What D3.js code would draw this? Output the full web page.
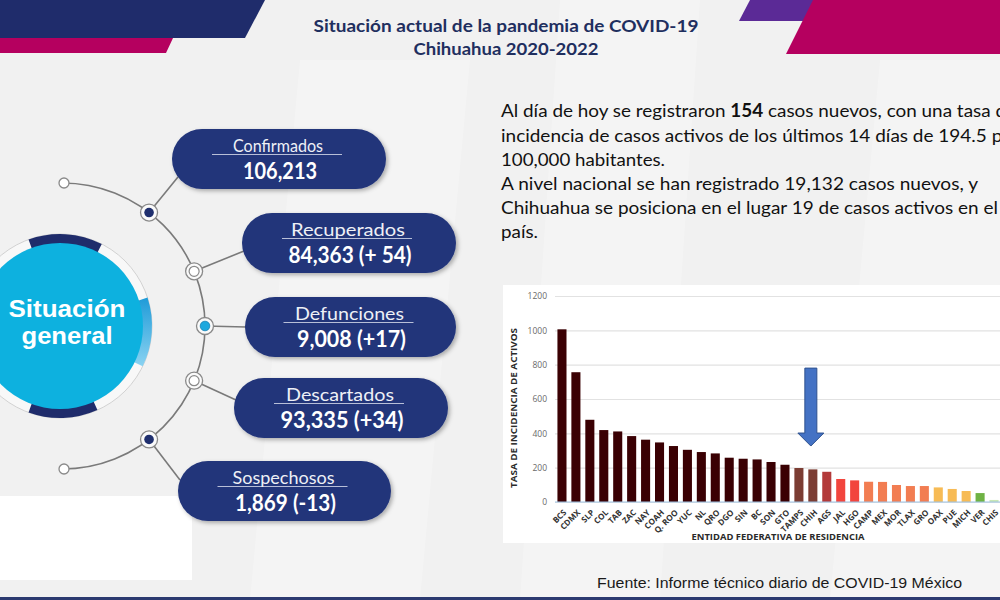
<!DOCTYPE html>
<html>
<head>
<meta charset="utf-8">
<script src="https://cdn.jsdelivr.net/npm/d3@7"></script>
<style>
  html, body { margin: 0; padding: 0; background: #f2f2f2; overflow: hidden; }
</style>
</head>
<body>
<svg id="slide" width="1000" height="600" font-family="Lato, 'Open Sans', sans-serif"></svg>
<script>
// ---- datos ----
var estados = ["BCS", "CDMX", "SLP", "COL", "TAB", "ZAC", "NAY", "COAH", "Q. ROO", "YUC", "NL", "QRO",
  "DGO", "SIN", "BC", "SON", "GTO", "TAMPS", "CHIH", "AGS", "JAL", "HGO", "CAMP", "MEX", "MOR", "TLAX",
  "GRO", "OAX", "PUE", "MICH", "VER", "CHIS"];
var tasas = [1006, 756, 479, 419, 411, 384, 363, 347, 326, 304, 291, 283,
  258, 252, 248, 233, 217, 198, 190, 176, 134, 126, 118, 117, 99, 93,
  93, 85, 76, 64, 52, 12];
var yTicks = [0, 200, 400, 600, 800, 1000, 1200];
var estadoMarcado = "CHIH";

var situLabels = ["Confirmados", "Recuperados", "Defunciones", "Descartados", "Sospechosos"];
var situValues = ["106,213", "84,363 (+ 54)", "9,008 (+17)", "93,335 (+34)", "1,869 (-13)"];

var titulo = ["Situación actual de la pandemia de COVID-19", "Chihuahua 2020-2022"];
var parrafo = [
  "Al día de hoy se registraron 154 casos nuevos, con una tasa de",
  "incidencia de casos activos de los últimos 14 días de 194.5 por",
  "100,000 habitantes.",
  "A nivel nacional se han registrado 19,132 casos nuevos, y",
  "Chihuahua se posiciona en el lugar 19 de casos activos en el",
  "país."
];
var fuente = "Fuente: Informe técnico diario de COVID-19 México";

// ---- layout ----
var pills = [
  {x: 172, y: 129, w: 214, lw: 90, vw: 74, end: [178, 177]},
  {x: 242, y: 213, w: 214, lw: 114, vw: 123, end: [244, 251]},
  {x: 245, y: 297, w: 211, lw: 109, vw: 109, end: [246, 327]},
  {x: 234, y: 378, w: 214, lw: 108, vw: 123, end: [236, 400]},
  {x: 178, y: 461, w: 213, lw: 102, vw: 101, end: [180, 480]}
];
var nodeAngles = [-52.5, -22.5, 0, 22.5, 52.5];
var nodeKind = ["navy", "hollow", "cyan", "hollow", "navy"];
var paraWidths = [515, 519, 164, 477, 497, 37];
var paraBase = [117, 142, 166, 190, 214, 238];

var svg = d3.select("#slide");
var defs = svg.append("defs");

var shadow = defs.append("filter").attr("id", "sombra")
  .attr("x", "-10%").attr("y", "-20%").attr("width", "130%").attr("height", "150%");
shadow.append("feDropShadow").attr("dx", 2).attr("dy", 2).attr("stdDeviation", 2)
  .attr("flood-color", "#000").attr("flood-opacity", 0.3);

var grad = defs.append("linearGradient").attr("id", "azulClaro")
  .attr("x1", 0).attr("y1", 0).attr("x2", 0).attr("y2", 1);
grad.append("stop").attr("offset", "0%").attr("stop-color", "#1f9bd8");
grad.append("stop").attr("offset", "100%").attr("stop-color", "#8ad3f2");

// fondo
svg.append("rect").attr("width", 1000).attr("height", 600).attr("fill", "#f1f1f1");
[[[300, 60], [470, 60], [420, 600], [250, 600]],
 [[560, 0], [700, 0], [660, 600], [520, 600]],
 [[880, 60], [1000, 60], [1000, 600], [830, 600]]].forEach(function(p) {
  svg.append("polygon").attr("points", p.join(" ")).attr("fill", "#ffffff").attr("opacity", 0.25);
});

// decoraciones superiores
var decos = [
  {pts: [[0, 0], [265, 0], [245, 38], [0, 38]], fill: "#1f2c6b"},
  {pts: [[0, 38], [173, 38], [166, 53], [0, 53]], fill: "#b5005f"},
  {pts: [[750, 0], [1000, 0], [1000, 21], [739, 21]], fill: "#5b2a96"},
  {pts: [[813, 0], [1000, 0], [1000, 54], [786, 54]], fill: "#b5005f"}
];
svg.selectAll("polygon.deco").data(decos).enter().append("polygon")
  .attr("class", "deco")
  .attr("points", function(d) { return d.pts.join(" "); })
  .attr("fill", function(d) { return d.fill; });

// titulo
svg.selectAll("text.titulo").data(titulo).enter().append("text")
  .attr("class", "titulo")
  .attr("x", 506)
  .attr("y", function(d, i) { return i === 0 ? 32 : 55; })
  .attr("text-anchor", "middle")
  .attr("font-size", 17).attr("font-weight", "bold").attr("fill", "#1f2f5f")
  .attr("textLength", function(d, i) { return i === 0 ? 385 : 185; })
  .attr("lengthAdjust", "spacingAndGlyphs")
  .text(function(d) { return d; });

// recuadros blancos
svg.append("rect").attr("x", 0).attr("y", 496).attr("width", 192).attr("height", 84).attr("fill", "#fff");
svg.append("rect").attr("x", 503).attr("y", 285).attr("width", 497).attr("height", 258).attr("fill", "#fff");

// ---- parte izquierda: circulo y orbita ----
var oc = [62, 326], oR = 143;
var orb = d3.path();
orb.moveTo(oc[0], oc[1] - oR);
orb.arc(oc[0], oc[1], oR, -Math.PI / 2, Math.PI / 2);
svg.append("path").attr("d", orb.toString()).attr("fill", "none")
  .attr("stroke", "#7a7a7a").attr("stroke-width", 1.6);

// extremos
[-1, 1].forEach(function(s) {
  svg.append("circle").attr("cx", oc[0] + 2).attr("cy", oc[1] + s * oR)
    .attr("r", 5).attr("fill", "#fff").attr("stroke", "#8a8a8a").attr("stroke-width", 1.3);
});

// conectores
pills.forEach(function(p, i) {
  var r = nodeAngles[i] * Math.PI / 180;
  svg.append("line")
    .attr("x1", oc[0] + oR * Math.cos(r)).attr("y1", oc[1] + oR * Math.sin(r))
    .attr("x2", p.end[0]).attr("y2", p.end[1])
    .attr("stroke", "#7a7a7a").attr("stroke-width", 1.6);
});

// nodos
nodeAngles.forEach(function(a, i) {
  var r = a * Math.PI / 180;
  var nx = oc[0] + oR * Math.cos(r), ny = oc[1] + oR * Math.sin(r);
  svg.append("circle").attr("cx", nx).attr("cy", ny).attr("r", 8.5)
    .attr("fill", "#fafafa").attr("stroke", "#8a8a8a").attr("stroke-width", 1.3);
  var inner = svg.append("circle").attr("cx", nx).attr("cy", ny);
  if (nodeKind[i] === "navy") {
    inner.attr("r", 4.8).attr("fill", "#1f2f6e");
  } else if (nodeKind[i] === "cyan") {
    inner.attr("r", 4.8).attr("fill", "#1ea8de").attr("stroke", "#1781b5").attr("stroke-width", 0.8);
  } else {
    inner.attr("r", 5).attr("fill", "#fff").attr("stroke", "#8a8a8a").attr("stroke-width", 1.2);
  }
});

// circulo grande
var cc = [60, 326];
var gc = svg.append("g").attr("transform", "translate(" + cc + ")");
gc.append("circle").attr("r", 87.5).attr("fill", "none").attr("stroke", "#f8f8f8").attr("stroke-width", 9);
gc.append("circle").attr("r", 92).attr("fill", "none").attr("stroke", "#d2d2d2").attr("stroke-width", 1);
var arcGen = d3.arc().innerRadius(82).outerRadius(92);
var deg = Math.PI / 180;
gc.append("path").attr("d", arcGen({startAngle: -20 * deg, endAngle: 27 * deg})).attr("fill", "#1f2c6b");
gc.append("path").attr("d", arcGen({startAngle: 156 * deg, endAngle: 200 * deg})).attr("fill", "#1f2c6b");
gc.append("path").attr("d", arcGen({startAngle: 72 * deg, endAngle: 116 * deg})).attr("fill", "url(#azulClaro)");
gc.append("circle").attr("r", 83).attr("fill", "#0db1df");
gc.append("text").attr("x", 7).attr("y", -9).attr("text-anchor", "middle")
  .attr("font-family", "'Liberation Sans', Arial, sans-serif").attr("font-weight", "bold")
  .attr("font-size", 23.5).attr("fill", "#fff")
  .attr("textLength", 117).attr("lengthAdjust", "spacingAndGlyphs").text("Situación");
gc.append("text").attr("x", 7).attr("y", 17.5).attr("text-anchor", "middle")
  .attr("font-family", "'Liberation Sans', Arial, sans-serif").attr("font-weight", "bold")
  .attr("font-size", 23.5).attr("fill", "#fff")
  .attr("textLength", 91).attr("lengthAdjust", "spacingAndGlyphs").text("general");

// pastillas
var pg = svg.selectAll("g.pill").data(pills).enter().append("g")
  .attr("class", "pill")
  .attr("transform", function(d) { return "translate(" + d.x + "," + d.y + ")"; });
pg.append("rect").attr("width", function(d) { return d.w; }).attr("height", 60)
  .attr("rx", 30).attr("fill", "#22357a").attr("filter", "url(#sombra)");
pg.append("line")
  .attr("x1", function(d) { return d.w / 2 - 67; }).attr("x2", function(d) { return d.w / 2 + 63; })
  .attr("y1", 25.5).attr("y2", 25.5).attr("stroke", "#b8bfd8").attr("stroke-width", 1);
pg.append("text").attr("x", function(d) { return d.w / 2 - 1; }).attr("y", 23)
  .attr("text-anchor", "middle").attr("font-size", 17).attr("fill", "#eef0f6")
  .attr("textLength", function(d) { return d.lw; }).attr("lengthAdjust", "spacingAndGlyphs")
  .text(function(d, i) { return situLabels[i]; });
pg.append("text").attr("x", function(d) { return d.w / 2 + 1; }).attr("y", 50)
  .attr("text-anchor", "middle").attr("font-size", 22).attr("font-weight", "bold").attr("fill", "#fff")
  .attr("textLength", function(d) { return d.vw; }).attr("lengthAdjust", "spacingAndGlyphs")
  .text(function(d, i) { return situValues[i]; });

// ---- parrafo ----
parrafo.forEach(function(line, i) {
  var t = svg.append("text").attr("x", 501).attr("y", paraBase[i])
    .attr("font-size", 18).attr("fill", "#111")
    .attr("textLength", paraWidths[i]).attr("lengthAdjust", "spacingAndGlyphs");
  line.split(/(154)/).forEach(function(s) {
    if (s === "") return;
    t.append("tspan").attr("font-weight", s === "154" ? "bold" : "normal").text(s);
  });
});

// ---- grafica de barras ----
var x = d3.scaleBand().domain(estados).range([555, 1001]).paddingInner(0.35).paddingOuter(0.175);
var y = d3.scaleLinear().domain([0, 1200]).range([502, 296]);
var color = d3.scaleThreshold()
  .domain([25, 60, 90, 120, 150, 185, 200])
  .range(["#c9e7b6", "#6fb244", "#f7bb55", "#f27d52", "#f2453d", "#b33a3a", "#7b3d33", "#3a0003"]);

var gy = svg.append("g").attr("transform", "translate(555,0)")
  .call(d3.axisLeft(y).tickValues(yTicks).tickFormat(d3.format("d")).tickSize(-445).tickPadding(8));
gy.select(".domain").remove();
gy.selectAll(".tick line").attr("stroke", "#e2e2e2").attr("stroke-width", 1.2);
gy.selectAll(".tick text").attr("font-family", "'Open Sans', sans-serif").attr("font-size", 8.5)
  .attr("fill", "#6a6a6a");

svg.selectAll("rect.bar").data(tasas).enter().append("rect")
  .attr("class", "bar")
  .attr("x", function(d, i) { return x(estados[i]); })
  .attr("y", function(d) { return y(d); })
  .attr("width", x.bandwidth())
  .attr("height", function(d) { return y(0) - y(d); })
  .attr("fill", function(d) { return color(d); });

var gx = svg.append("g").attr("transform", "translate(0," + y(0) + ")")
  .call(d3.axisBottom(x).tickSize(0).tickPadding(0));
gx.select(".domain").attr("stroke", "#9dc3e6").attr("stroke-width", 1.2)
  .attr("d", "M555,0H1000");
gx.selectAll(".tick text")
  .attr("font-family", "'Open Sans', sans-serif").attr("font-weight", "bold").attr("font-size", 8.2)
  .attr("fill", "#333")
  .attr("text-anchor", "end").attr("y", 0).attr("dy", "0.35em")
  .attr("transform", "translate(3,9) rotate(-45)");

svg.append("text").attr("transform", "translate(517,408) rotate(-90)")
  .attr("text-anchor", "middle").attr("font-family", "'Open Sans', sans-serif")
  .attr("font-weight", "bold").attr("font-size", 8.5).attr("fill", "#2a2a2a")
  .attr("textLength", 160).attr("lengthAdjust", "spacingAndGlyphs")
  .text("TASA DE INCIDENCIA DE ACTIVOS");
svg.append("text").attr("x", 778).attr("y", 540)
  .attr("text-anchor", "middle").attr("font-family", "'Open Sans', sans-serif")
  .attr("font-weight", "bold").attr("font-size", 8.5).attr("fill", "#2a2a2a")
  .attr("textLength", 173).attr("lengthAdjust", "spacingAndGlyphs")
  .text("ENTIDAD FEDERATIVA DE RESIDENCIA");

// flecha sobre Chihuahua
var ax = x(estadoMarcado) + x.bandwidth() / 2 - 2;
var aTop = y(780), aTip = y(326), aHead = aTip - 13;
svg.append("polygon")
  .attr("points", [[ax - 6, aTop], [ax + 6, aTop], [ax + 6, aHead], [ax + 13, aHead],
    [ax, aTip], [ax - 13, aHead], [ax - 6, aHead]].join(" "))
  .attr("fill", "#4472c4").attr("stroke", "#2f528f").attr("stroke-width", 1);

// ---- pie ----
svg.append("text").attr("x", 597).attr("y", 588)
  .attr("font-family", "'Liberation Sans', Arial, sans-serif").attr("font-size", 14).attr("fill", "#1a1a1a")
  .attr("textLength", 365).attr("lengthAdjust", "spacingAndGlyphs").text(fuente);
svg.append("rect").attr("x", 0).attr("y", 597).attr("width", 1000).attr("height", 3).attr("fill", "#2c3a70");
</script>
</body>
</html>
